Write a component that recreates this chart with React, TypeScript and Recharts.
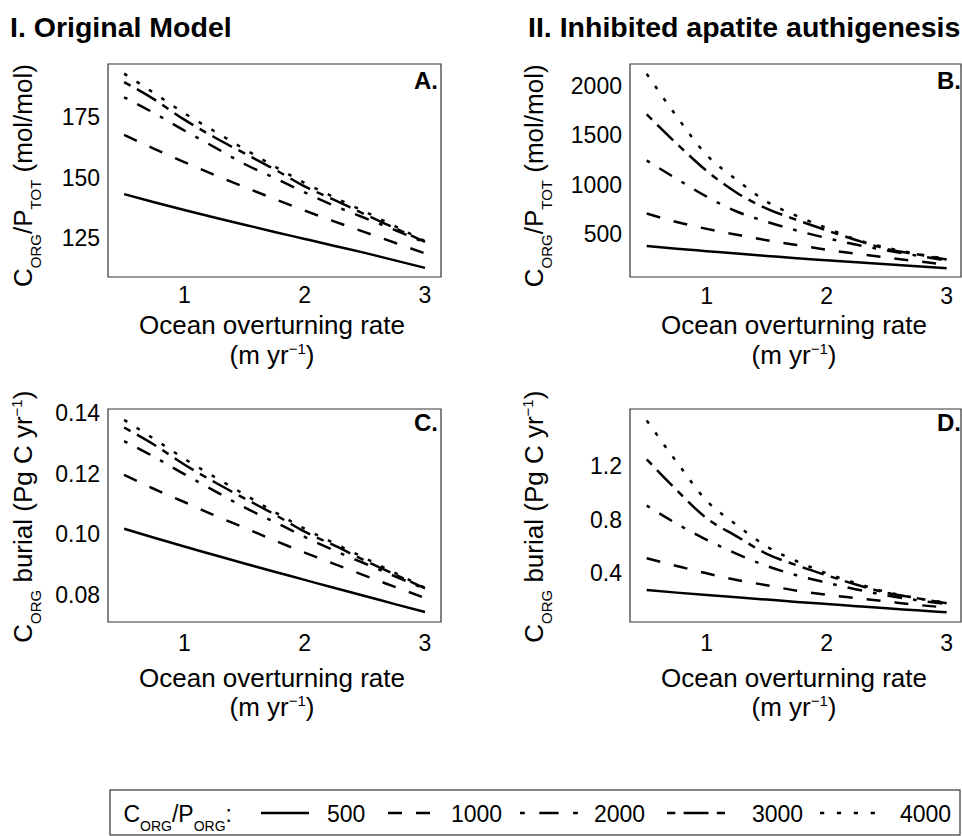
import React from "react";
import { LineChart, Line, XAxis, YAxis, ReferenceArea } from "recharts";

// overturning rate (m/yr) sampled for every run
const overturning = [0.5, 0.75, 1, 1.25, 1.5, 1.75, 2, 2.25, 2.5, 2.75, 3];
const cpOrgRatios = [500, 1000, 2000, 3000, 4000];

// I. original model: Corg/Ptot (mol/mol)
const origRatio500 = [143.1, 139.7, 136.5, 133.4, 130.4, 127.4, 124.5, 121.6, 118.7, 115.6, 112.5];
const origRatio1000 = [167.7, 161.9, 156.4, 151.1, 146.0, 141.1, 136.3, 131.7, 127.3, 122.9, 118.5];
const origRatio2000 = [183.3, 176.7, 169.5, 162.6, 155.6, 149.8, 143.8, 138.2, 133.2, 128.2, 123.0];
const origRatio3000 = [189.6, 182.4, 174.0, 166.7, 160.0, 153.4, 146.3, 140.6, 134.7, 129.0, 123.3];
const origRatio4000 = [193.1, 185.0, 176.7, 169.2, 161.8, 154.6, 147.7, 141.7, 135.8, 129.8, 123.6];

// II. inhibited apatite authigenesis: Corg/Ptot (mol/mol)
const inhibRatio500 = [382, 355, 330, 305, 282, 258, 238, 218, 198, 178, 158];
const inhibRatio1000 = [710, 624, 555, 496, 440, 392, 345, 303, 265, 228, 195];
const inhibRatio2000 = [1245, 1060, 880, 730, 627, 538, 462, 395, 338, 285, 235];
const inhibRatio3000 = [1710, 1415, 1140, 920, 760, 645, 540, 440, 352, 298, 246];
const inhibRatio4000 = [2120, 1690, 1300, 1050, 830, 685, 563, 446, 364, 303, 250];

// I. original model: Corg burial (Pg C/yr)
const origBurial500 = [0.1018, 0.0988, 0.0959, 0.0931, 0.0903, 0.0876, 0.0849, 0.0822, 0.0796, 0.0769, 0.0743];
const origBurial1000 = [0.1196, 0.1149, 0.1106, 0.1062, 0.1021, 0.0979, 0.0939, 0.0901, 0.0863, 0.0826, 0.0789];
const origBurial2000 = [0.1307, 0.1255, 0.1198, 0.1143, 0.1088, 0.104, 0.0991, 0.0945, 0.0903, 0.0861, 0.0819];
const origBurial3000 = [0.1352, 0.1295, 0.123, 0.1172, 0.1118, 0.1065, 0.1008, 0.0962, 0.0913, 0.0867, 0.0821];
const origBurial4000 = [0.1377, 0.1314, 0.1249, 0.1189, 0.1131, 0.1073, 0.1018, 0.0969, 0.0921, 0.0872, 0.0823];

// II. inhibited apatite authigenesis: Corg burial (Pg C/yr)
const inhibBurial500 = [0.275, 0.256, 0.238, 0.221, 0.204, 0.187, 0.171, 0.155, 0.139, 0.124, 0.109];
const inhibBurial1000 = [0.512, 0.455, 0.4, 0.35, 0.311, 0.27, 0.24, 0.215, 0.19, 0.165, 0.145];
const inhibBurial2000 = [0.905, 0.77, 0.65, 0.545, 0.455, 0.385, 0.33, 0.28, 0.235, 0.2, 0.17];
const inhibBurial3000 = [1.25, 1.02, 0.81, 0.675, 0.545, 0.46, 0.385, 0.315, 0.255, 0.215, 0.177];
const inhibBurial4000 = [1.54, 1.23, 0.94, 0.76, 0.6, 0.49, 0.4, 0.325, 0.26, 0.215, 0.18];

const ratioTicksOrig = [125, 150, 175];
const ratioTicksInhib = [500, 1000, 1500, 2000];
const burialTicksOrig = [0.08, 0.1, 0.12, 0.14];
const burialTicksInhib = [0.4, 0.8, 1.2];
const rateTicks = [1, 2, 3];

const FONT = '"Liberation Sans", Arial, Helvetica, sans-serif';
const TICK_SIZE = 23;

// R-style line types: solid, dashed, dotdash, twodash, dotted
const dashes: Record<number, string | undefined> = {
  500: undefined,
  1000: "14 14",
  2000: "3.7 11.1 14.8 11.1",
  3000: "7.4 7.4 22.2 7.4",
  4000: "3.7 11.1",
};

const legendKeys = [
  { ratio: 500, x: 261, len: 48, dash: undefined, textX: 327 },
  { ratio: 1000, x: 388, len: 42, dash: "14 14", textX: 451 },
  { ratio: 2000, x: 520, len: 58, dash: "4.8 14.5 19.3 14.5", textX: 594 },
  { ratio: 3000, x: 667, len: 58, dash: "8.3 8.3 24.9 8.3", textX: 752 },
  { ratio: 4000, x: 820, len: 55, dash: "4.2 12.7", textX: 900 },
];

function buildRows(cols: number[][]) {
  return overturning.map((x, i) => {
    const row: Record<string, number> = { x };
    cpOrgRatios.forEach((r, j) => {
      row["r" + r] = cols[j][i];
    });
    return row;
  });
}

type Part = { t: string; sub?: boolean; sup?: boolean };

function renderParts(parts: Part[], small: number) {
  let shift = 0;
  return parts.map((p, i) => {
    const target = p.sub ? 9 : p.sup ? -10 : 0;
    const dy = target - shift;
    shift = target;
    return (
      <tspan key={i} dy={dy} fontSize={p.sub || p.sup ? small : undefined}>
        {p.t}
      </tspan>
    );
  });
}

const ratioTitle: Part[] = [
  { t: "C" },
  { t: "ORG", sub: true },
  { t: "/P" },
  { t: "TOT", sub: true },
  { t: " (mol/mol)" },
];
const burialTitle: Part[] = [
  { t: "C" },
  { t: "ORG", sub: true },
  { t: " burial (Pg C yr" },
  { t: "\u22121", sup: true },
  { t: ")" },
];
const rateUnit: Part[] = [{ t: "(m yr" }, { t: "\u22121", sup: true }, { t: ")" }];

type Box = { l: number; t: number; r: number; b: number };

type PanelProps = {
  left: number;
  top: number;
  width: number;
  height: number;
  box: Box;
  rows: Record<string, number>[];
  xDomain: [number, number];
  yDomain: [number, number];
  yTicks: number[];
  yFormat: (v: number) => string;
  xTickMargin: number;
  yTitle: Part[];
  yTitleX: number;
  yTitleY: number;
  xTitleX: number;
  xTitleY1: number;
  xTitleY2: number;
};

function Panel(p: PanelProps) {
  const { left, top, box } = p;
  const yLabel = () => {
    const x = p.yTitleX - left;
    const y = p.yTitleY - top;
    return (
      <text
        x={x}
        y={y}
        transform={`rotate(-90 ${x} ${y})`}
        textAnchor="middle"
        fontSize={26}
        fill="#000"
        style={{ whiteSpace: "pre", fontFamily: FONT }}
      >
        {renderParts(p.yTitle, 15)}
      </text>
    );
  };
  const xLabel = () => (
    <g fontSize={26} fill="#000" style={{ fontFamily: FONT }}>
      <text x={p.xTitleX - left} y={p.xTitleY1 - top} textAnchor="middle">
        Ocean overturning rate
      </text>
      <text x={p.xTitleX - left} y={p.xTitleY2 - top} textAnchor="middle" style={{ whiteSpace: "pre" }}>
        {renderParts(rateUnit, 15)}
      </text>
    </g>
  );

  return (
    <div style={{ position: "absolute", left, top, width: p.width, height: p.height }}>
      <LineChart
        width={p.width}
        height={p.height}
        data={p.rows}
        margin={{ top: box.t - top, right: left + p.width - box.r, bottom: 0, left: 0 }}
      >
        <XAxis
          dataKey="x"
          type="number"
          domain={p.xDomain}
          ticks={rateTicks}
          allowDataOverflow
          axisLine={false}
          tickLine={false}
          tickMargin={p.xTickMargin}
          height={top + p.height - box.b}
          tick={{ fill: "#000", fontSize: TICK_SIZE }}
          label={xLabel}
        />
        <YAxis
          type="number"
          domain={p.yDomain}
          ticks={p.yTicks}
          allowDataOverflow
          tickFormatter={p.yFormat}
          axisLine={false}
          tickLine={false}
          tickMargin={2}
          width={box.l - left}
          tick={{ fill: "#000", fontSize: TICK_SIZE }}
          label={yLabel}
        />
        <ReferenceArea
          x1={p.xDomain[0]}
          x2={p.xDomain[1]}
          y1={p.yDomain[0]}
          y2={p.yDomain[1]}
          fill="none"
          stroke="#333"
          strokeWidth={1.2}
        />
        {cpOrgRatios.map((r) => (
          <Line
            key={r}
            dataKey={"r" + r}
            type="monotone"
            stroke="#000"
            strokeWidth={2.5}
            strokeDasharray={dashes[r]}
            strokeLinecap="butt"
            dot={false}
            activeDot={false}
            isAnimationActive={false}
          />
        ))}
      </LineChart>
    </div>
  );
}

const xDomainLeft: [number, number] = [0.366, 3.133];
const xDomainRight: [number, number] = [0.361, 3.119];

export default function App() {
  const rowsA = buildRows([origRatio500, origRatio1000, origRatio2000, origRatio3000, origRatio4000]);
  const rowsB = buildRows([inhibRatio500, inhibRatio1000, inhibRatio2000, inhibRatio3000, inhibRatio4000]);
  const rowsC = buildRows([origBurial500, origBurial1000, origBurial2000, origBurial3000, origBurial4000]);
  const rowsD = buildRows([inhibBurial500, inhibBurial1000, inhibBurial2000, inhibBurial3000, inhibBurial4000]);

  return (
    <div
      style={{
        position: "absolute",
        left: 0,
        top: 0,
        width: 962,
        height: 836,
        background: "#fff",
        fontFamily: FONT,
        overflow: "hidden",
      }}
    >
      <Panel
        left={0}
        top={0}
        width={480}
        height={400}
        box={{ l: 108, t: 64, r: 441, b: 277 }}
        rows={rowsA}
        xDomain={xDomainLeft}
        yDomain={[108.7, 197.1]}
        yTicks={ratioTicksOrig}
        yFormat={(v) => String(v)}
        xTickMargin={3.7}
        yTitle={ratioTitle}
        yTitleX={32}
        yTitleY={175.5}
        xTitleX={272}
        xTitleY1={334}
        xTitleY2={364}
      />
      <Panel
        left={480}
        top={0}
        width={482}
        height={400}
        box={{ l: 630, t: 64, r: 961, b: 277 }}
        rows={rowsB}
        xDomain={xDomainRight}
        yDomain={[69, 2219]}
        yTicks={ratioTicksInhib}
        yFormat={(v) => String(v)}
        xTickMargin={4.7}
        yTitle={ratioTitle}
        yTitleX={543.5}
        yTitleY={175.8}
        xTitleX={794}
        xTitleY1={334}
        xTitleY2={364}
      />
      <Panel
        left={0}
        top={380}
        width={480}
        height={400}
        box={{ l: 108, t: 409, r: 441, b: 622 }}
        rows={rowsC}
        xDomain={xDomainLeft}
        yDomain={[0.071, 0.1413]}
        yTicks={burialTicksOrig}
        yFormat={(v) => v.toFixed(2)}
        xTickMargin={6.4}
        yTitle={burialTitle}
        yTitleX={31.7}
        yTitleY={516.7}
        xTitleX={272}
        xTitleY1={687}
        xTitleY2={716}
      />
      <Panel
        left={480}
        top={380}
        width={482}
        height={400}
        box={{ l: 630, t: 409, r: 961, b: 622 }}
        rows={rowsD}
        xDomain={xDomainRight}
        yDomain={[0.037, 1.625]}
        yTicks={burialTicksInhib}
        yFormat={(v) => v.toFixed(1)}
        xTickMargin={6.4}
        yTitle={burialTitle}
        yTitleX={543.5}
        yTitleY={516.7}
        xTitleX={794}
        xTitleY1={687}
        xTitleY2={716}
      />

      <svg
        width={962}
        height={836}
        style={{ position: "absolute", left: 0, top: 0, pointerEvents: "none", fontFamily: FONT }}
      >
        <g fontSize={28.5} fontWeight="bold" fill="#000">
          <text x={10} y={37}>I. Original Model</text>
          <text x={528} y={37}>II. Inhibited apatite authigenesis</text>
        </g>
        <g fontSize={24} fontWeight="bold" fill="#000" textAnchor="end">
          <text x={438} y={89}>A.</text>
          <text x={961} y={89}>B.</text>
          <text x={438} y={431}>C.</text>
          <text x={961} y={431}>D.</text>
        </g>

        <rect x={110} y={790} width={850} height={45} fill="none" stroke="#333" strokeWidth={1.2} />
        <text x={232} y={822} fontSize={23} textAnchor="end" fill="#000">
          {renderParts(
            [{ t: "C" }, { t: "ORG", sub: true }, { t: "/P" }, { t: "ORG", sub: true }, { t: ":" }],
            14
          )}
        </text>
        {legendKeys.map((k) => (
          <g key={k.ratio}>
            <line
              x1={k.x}
              x2={k.x + k.len}
              y1={813}
              y2={813}
              stroke="#000"
              strokeWidth={2.5}
              strokeDasharray={k.dash}
            />
            <text x={k.textX} y={822} fontSize={23} fill="#000">
              {k.ratio}
            </text>
          </g>
        ))}
      </svg>
    </div>
  );
}
